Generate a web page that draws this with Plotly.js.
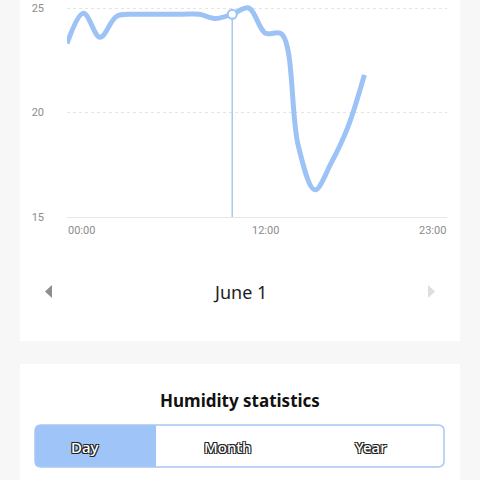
<!DOCTYPE html>
<html>
<head>
<meta charset="utf-8">
<script src="https://cdn.plot.ly/plotly-3.0.1.min.js"></script>
<style>
  html, body { margin: 0; padding: 0; background: #f7f7f7; }
  #chart { width: 480px; height: 480px; }
</style>
</head>
<body>
<div id="chart"></div>
<script>
// ---- data ----
const hours = [0, 1, 2, 3, 4, 5, 6, 7, 8, 9, 10, 11, 12, 13, 14, 15, 16, 17, 18];
const humidity = [23.3, 24.75, 23.6, 24.6, 24.7, 24.7, 24.7, 24.7, 24.7, 24.5, 24.7, 25.0, 23.8, 23.75, 18.4, 16.3, 17.6, 19.3, 21.8];
const selectedHour = 10;
const xTickVals = [0, 12, 23];
const xTickText = ["00:00", "12:00", "23:00"];
const yTickVals = [15, 20, 25];
const yTickText = ["15", "20", "25"];
const dateLabel = "June 1";
const sectionTitle = "Humidity statistics";
const tabs = ["Day", "Month", "Year"];

// ---- helpers (layout positions, in pixels of the 480x480 page) ----
const W = 480, H = 480;
function P(x, y) { return (x / W).toFixed(5) + "," + (1 - y / H).toFixed(5); }
function roundRect(x0, y0, x1, y1, r, corners) {
  const c = corners || [r, r, r, r]; // tl, tr, br, bl
  return "M" + P(x0 + c[0], y0) + " L" + P(x1 - c[1], y0) +
    " Q" + P(x1, y0) + " " + P(x1, y0 + c[1]) +
    " L" + P(x1, y1 - c[2]) + " Q" + P(x1, y1) + " " + P(x1 - c[2], y1) +
    " L" + P(x0 + c[3], y1) + " Q" + P(x0, y1) + " " + P(x0, y1 - c[3]) +
    " L" + P(x0, y0 + c[0]) + " Q" + P(x0, y0) + " " + P(x0 + c[0], y0) + " Z";
}

const lineColor = "#9dc3f6";
const selIdx = hours.indexOf(selectedHour);

const traces = [
  {
    x: [hours[selIdx], hours[selIdx]],
    y: [yTickVals[0], humidity[selIdx]],
    mode: "lines",
    line: { color: "#a9c8ef", width: 1.5 },
    hoverinfo: "skip",
    showlegend: false
  },
  {
    x: hours,
    y: humidity,
    mode: "lines",
    line: { color: lineColor, width: 5, shape: "spline", smoothing: 1 },
    hoverinfo: "skip",
    showlegend: false
  },
  {
    x: [hours[selIdx]],
    y: [humidity[selIdx]],
    mode: "markers",
    marker: { size: 9, color: "#ffffff", line: { color: lineColor, width: 2 } },
    hoverinfo: "skip",
    showlegend: false
  }
];

const tickFont = { family: "Roboto, 'Noto Sans', sans-serif", size: 11, color: "#8c8c8c" };

const annotations = [];
xTickVals.forEach((v, i) => {
  annotations.push({
    x: v, xref: "x", y: 1 - 230 / H, yref: "paper",
    text: xTickText[i], showarrow: false,
    xanchor: i === 0 ? "left" : (i === xTickVals.length - 1 ? "right" : "center"),
    yanchor: "middle", font: tickFont, borderpad: 0
  });
});
annotations.push({
  x: 0.5, xref: "paper", y: 1 - 292 / H, yref: "paper",
  text: dateLabel, showarrow: false, xanchor: "center", yanchor: "middle",
  font: { family: "'Noto Sans', 'Open Sans', sans-serif", size: 18, color: "#1e1e1e" }
});
annotations.push({
  x: 0.5, xref: "paper", y: 1 - 400 / H, yref: "paper",
  text: sectionTitle, showarrow: false, xanchor: "center", yanchor: "middle",
  font: { family: "'Noto Sans', 'Open Sans', sans-serif", size: 17, color: "#111111", weight: 700 }
});
const tabCenters = [85, 228, 371];
const outline = "-1px -1px 0 #222, 1px -1px 0 #222, -1px 1px 0 #222, 1px 1px 0 #222";
tabs.forEach((t, i) => {
  annotations.push({
    x: tabCenters[i] / W, xref: "paper", y: 1 - 447 / H, yref: "paper",
    text: t, showarrow: false, xanchor: "center", yanchor: "middle",
    font: { family: "'Noto Sans', 'Open Sans', sans-serif", size: 15, color: "#ffffff", weight: 500, shadow: outline }
  });
});

const shapes = [
  // top card
  { type: "rect", xref: "paper", yref: "paper", x0: 20 / W, x1: 460 / W, y0: 1 - 341 / H, y1: 1.02,
    fillcolor: "#ffffff", line: { width: 0 }, layer: "below" },
  // bottom card
  { type: "rect", xref: "paper", yref: "paper", x0: 20 / W, x1: 460 / W, y0: -0.02, y1: 1 - 364 / H,
    fillcolor: "#ffffff", line: { width: 0 }, layer: "below" },
  // left arrow
  { type: "path", xref: "paper", yref: "paper",
    path: "M" + P(52, 285) + " L" + P(45, 291.5) + " L" + P(52, 298) + " Z",
    fillcolor: "#8e8e8e", line: { width: 0 }, layer: "above" },
  // right arrow
  { type: "path", xref: "paper", yref: "paper",
    path: "M" + P(428, 285) + " L" + P(435, 291.5) + " L" + P(428, 298) + " Z",
    fillcolor: "#dedede", line: { width: 0 }, layer: "above" },
  // segmented control: selected part
  { type: "path", xref: "paper", yref: "paper",
    path: roundRect(35, 425, 156, 467, 6, [6, 0, 0, 6]),
    fillcolor: "#9fc4f7", line: { width: 0 }, layer: "above" },
  // segmented control border
  { type: "path", xref: "paper", yref: "paper",
    path: roundRect(35, 425, 444, 467, 6),
    fillcolor: "rgba(0,0,0,0)", line: { color: "#a9c6f2", width: 1.5 }, layer: "above" }
];

const layout = {
  width: W, height: H,
  margin: { l: 0, r: 0, t: 0, b: 0 },
  paper_bgcolor: "#f7f7f7",
  plot_bgcolor: "rgba(0,0,0,0)",
  showlegend: false,
  xaxis: {
    domain: [67 / W, 447 / W], range: [0, 23],
    tickvals: xTickVals, showticklabels: false, ticks: "",
    showgrid: false, zeroline: false,
    showline: true, linecolor: "#e6e6e6", linewidth: 1, fixedrange: true
  },
  yaxis: {
    domain: [(H - 217) / H, 1], range: [15, 25 + 8 / 20.9],
    tickvals: yTickVals, ticktext: yTickText, ticks: "",
    tickfont: tickFont, ticklabelstandoff: 22,
    showgrid: true, gridcolor: "#e4e4e4", griddash: "dot", gridwidth: 1,
    zeroline: false, showline: false, fixedrange: true
  },
  shapes: shapes,
  annotations: annotations
};

Plotly.newPlot("chart", traces, layout, { displayModeBar: false, staticPlot: true });
</script>
</body>
</html>
